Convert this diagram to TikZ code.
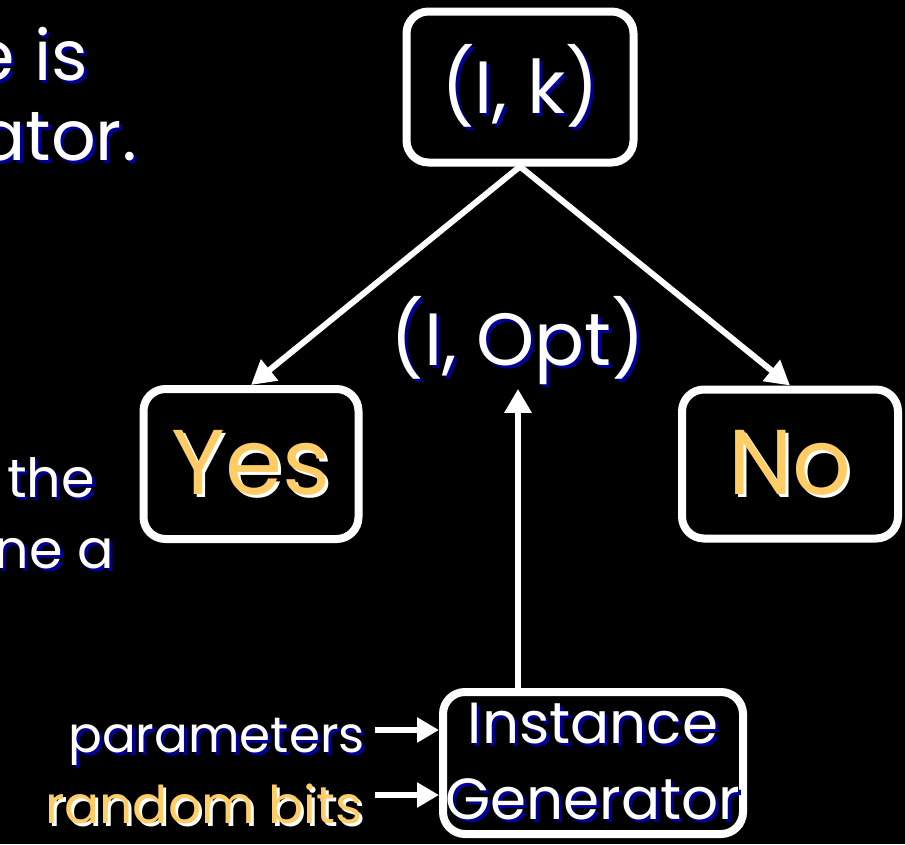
\documentclass[tikz,border=0pt]{standalone}
\usepackage{fontspec}
\setmainfont{Poppins}
\usetikzlibrary{arrows.meta,calc}
\definecolor{slideorange}{HTML}{FFCC66}
\definecolor{shadeblue}{HTML}{000099}
% text with a drop shadow behind it
\newcommand{\shadowtext}[3]{\leavevmode\rlap{\kern3pt\raisebox{-3pt}{\textcolor{#2}{#3}}}\textcolor{#1}{#3}}
\newcommand{\bluetext}[1]{\shadowtext{white}{shadeblue}{#1}}
\newcommand{\orangetext}[1]{\shadowtext{slideorange}{white}{#1}}

\begin{document}
\begin{tikzpicture}[x=1pt, y=-1pt,
  box/.style={draw=white, line width=8pt, rounded corners=22pt, fill=black, inner sep=0pt},
  flow/.style={white, line width=6pt, -{Triangle[length=24pt,width=26pt]}},
  feed/.style={white, line width=6pt, -{Triangle[length=22pt,width=24pt]}},
  txt/.style={inner sep=0pt}]

  % ---- Background ----
  \useasboundingbox (0,0) rectangle (905,844);
  \clip (0,0) rectangle (905,844);
  \fill[black] (0,0) rectangle (905,844);

  % ---- Slide text running off the left edge ----
  \node[txt, anchor=base east, font=\fontsize{70}{80}\selectfont] (lineA) at (88,80) {\bluetext{e is}};
  \node[txt, anchor=base east, font=\fontsize{70}{80}\selectfont] (lineB) at (137,160) {\bluetext{ator.}};
  \node[txt, anchor=base east, font=\fontsize{54}{60}\selectfont] (lineC) at (95,497) {\bluetext{the}};
  \node[txt, anchor=base east, font=\fontsize{54}{60}\selectfont] (lineD) at (114,568) {\bluetext{ne a}};

  % ---- Decision tree ----
  \node[box, minimum width=227pt, minimum height=151pt, font=\fontsize{74}{80}\selectfont]
    (ik) at (520,87) {\bluetext{(I, k)}};
  \node[box, minimum width=215pt, minimum height=150pt, font=\fontsize{92}{100}\selectfont]
    (yes) at (251,464) {\orangetext{Yes}};
  \node[box, minimum width=216pt, minimum height=149pt, font=\fontsize{92}{100}\selectfont]
    (no) at (790,464) {\orangetext{No}};
  \node[txt, inner sep=1pt, font=\fontsize{74}{80}\selectfont]
    (opt) at (518,342) {\bluetext{(I, Opt)}};

  \draw[flow] (ik.south) -- (yes.north);
  \draw[flow] (ik.south) -- (no.north);

  % ---- Generator and its inputs ----
  \node[box, minimum width=300pt, minimum height=142pt, align=center, font=\fontsize{58}{76}\selectfont]
    (gen) at (593,763) {\bluetext{Instance}\\\bluetext{Generator}};
  \node[txt, anchor=base east, font=\fontsize{50}{60}\selectfont]
    (params) at (365,752) {\bluetext{parameters}};
  \node[txt, anchor=base east, font=\fontsize{52}{60}\selectfont]
    (bits) at (363,823) {\orangetext{random bits}};

  \draw[flow] (gen.north -| opt.south) -- (opt.south);
  \draw[feed] ([xshift=10pt, yshift=22pt]params.base east) -- ([yshift=22pt]params.base east -| gen.west);
  \draw[feed] ([xshift=12pt, yshift=28pt]bits.base east) -- ([yshift=28pt]bits.base east -| gen.west);

\end{tikzpicture}
\end{document}
